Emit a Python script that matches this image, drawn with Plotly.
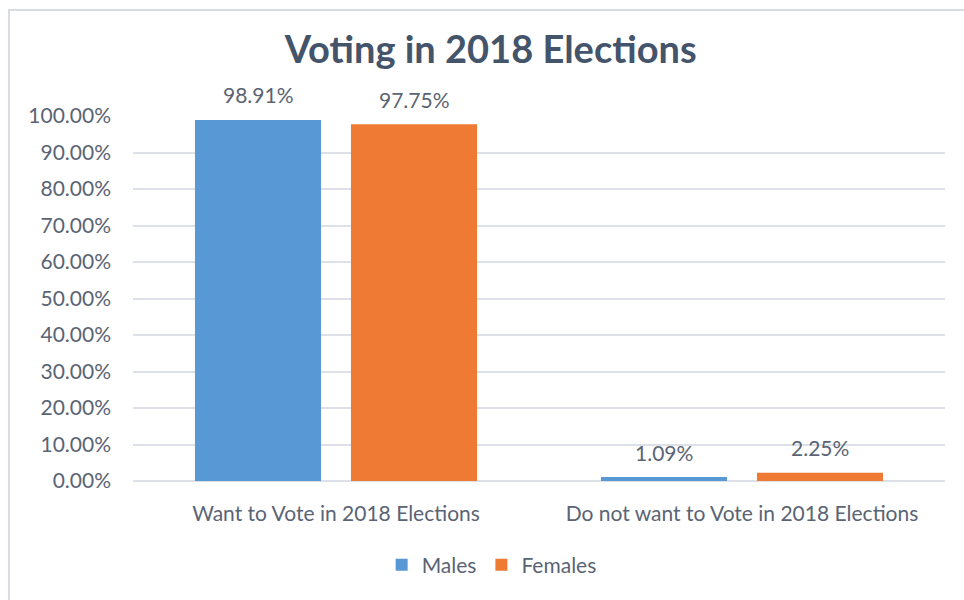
import plotly.graph_objects as go

categories = ["Want to Vote in 2018 Elections", "Do not want to Vote in 2018 Elections"]
males = [0.9891, 0.0109]
females = [0.9775, 0.0225]
y_ticks = [0.0, 0.1, 0.2, 0.3, 0.4, 0.5, 0.6, 0.7, 0.8, 0.9, 1.0]

FONT = "Lato"
TEXT_COLOR = "#5a6474"
GRID = "#dde0e6"
SIZE = 21

fig = go.Figure()
series = [("Males", males, "#5898d4", -1), ("Females", females, "#ee7a33", 1)]
for name, vals, color, side in series:
    fig.add_trace(go.Bar(
        name=name, x=categories, y=vals,
        marker=dict(color=color, line=dict(width=0)),
    ))

# value labels sit above each bar, offset toward its slot in the group
for name, vals, color, side in series:
    for cat, v in zip(categories, vals):
        fig.add_annotation(
            x=cat, y=v, text=f"{v*100:.2f}%", showarrow=False,
            xshift=side * 78, yshift=25, yanchor="middle",
            font=dict(family=FONT, size=SIZE, color=TEXT_COLOR),
        )

fig.update_layout(
    width=964, height=600,
    paper_bgcolor="white", plot_bgcolor="white",
    margin=dict(l=133, r=19, t=116, b=119),
    barmode="group", bargap=0.2315, bargroupgap=0.192,
    title=dict(
        text="<b>Voting in 2018 Elections</b>",
        x=0.509, xref="container", xanchor="center",
        y=1 - 50 / 600, yref="container", yanchor="middle",
        font=dict(family=FONT, size=38, color="#44546a"),
    ),
    font=dict(family=FONT, size=SIZE, color=TEXT_COLOR),
    legend=dict(
        orientation="h", x=0.51, xref="container", xanchor="center",
        y=1 - 565 / 600, yref="container", yanchor="middle",
        font=dict(family=FONT, size=SIZE, color=TEXT_COLOR),
        itemsizing="constant", itemwidth=30,
    ),
    showlegend=True,
)
fig.update_yaxes(
    range=[0, 1], tickvals=y_ticks, tickformat=".2%",
    showgrid=True, gridcolor=GRID, gridwidth=2,
    zeroline=True, zerolinecolor=GRID, zerolinewidth=2,
    showline=False, ticks="", ticklabelstandoff=21,
    tickfont=dict(family=FONT, size=SIZE, color=TEXT_COLOR),
)
fig.update_xaxes(
    showgrid=False, showline=False, ticks="", ticklabelstandoff=18,
    tickfont=dict(family=FONT, size=SIZE, color=TEXT_COLOR),
)

# light frame around the chart area
fig.add_shape(
    type="rect", xref="paper", yref="paper",
    x0=(9 - 133) / 812, x1=1.2, y0=-0.5, y1=1 + (116 - 10) / 365,
    line=dict(color="#d9dde3", width=2), fillcolor="rgba(0,0,0,0)", layer="below",
)

fig.write_html("out.html")
